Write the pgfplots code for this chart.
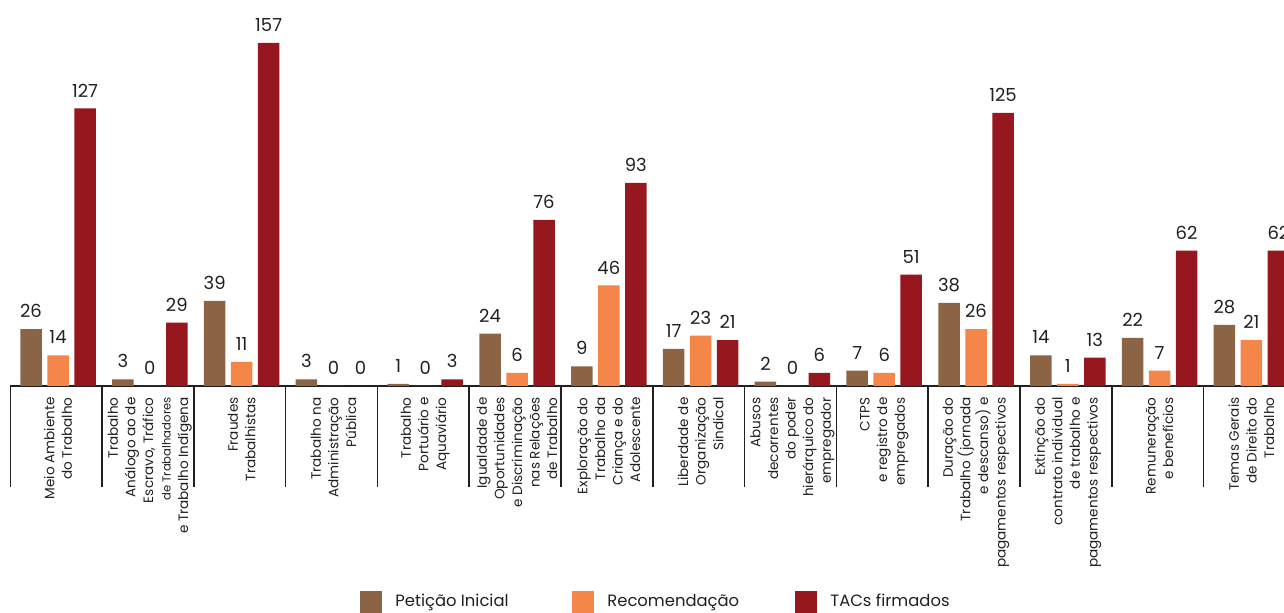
\documentclass[border=0pt]{standalone}
\usepackage{fontspec}
\setmainfont{Poppins}
\usepackage{pgfplots}
\pgfplotsset{compat=1.18}
\definecolor{peticao}{HTML}{8B6345}
\definecolor{recom}{HTML}{F5864A}
\definecolor{tac}{HTML}{96171E}
\definecolor{txt}{HTML}{231F20}

\begin{document}
\begin{tikzpicture}
\useasboundingbox (0,0) rectangle (642pt,306.5pt);
\clip (0,0) rectangle (642pt,306.5pt);
\begin{axis}[
    at={(5.15pt,113.5pt)}, anchor=south west,
    scale only axis, width=643.5pt, height=174.8pt,
    xmin=-0.52, xmax=13.5, ymin=0, ymax=160,
    axis x line*=bottom, axis y line=none,
    x axis line style={line width=0.9pt, txt},
    ybar=2.75pt, bar width=10.75pt,
    xtick={0,...,13}, major tick length=0pt,
    minor xtick={-0.52,0.48,1.48,2.48,3.48,4.48,5.48,6.48,7.48,8.48,9.48,10.48,11.48,12.48},
    minor tick length=50.5pt, tick align=outside,
    minor tick style={line width=0.8pt, txt},
    xticklabels={
        {Meio Ambiente\\do Trabalho},
        {Trabalho\\Análogo ao de\\Escravo, Tráfico\\{\fontsize{5.8}{8}\selectfont de Trabalhadores}\\e Trabalho Indígena},
        {Fraudes\\Trabalhistas},
        {Trabalho na\\Administração\\Pública},
        {Trabalho\\Portuário e\\Aquaviário},
        {Igualdade de\\Oportunidades\\e Discriminação\\nas Relações\\de Trabalho},
        {Exploração do\\Trabalho da\\Criança e do\\Adolescente},
        {Liberdade de\\Organização\\Sindical},
        {Abusos\\decorrentes\\do poder\\hierárquico do\\empregador},
        {CTPS\\e registro de\\empregados},
        {Duração do\\Trabalho (jornada\\e descanso) e\\pagamentos respectivos},
        {Extinção do\\contrato individual\\de trabalho e\\pagamentos respectivos},
        {Remuneração\\e benefícios},
        {Temas Gerais\\de Direito do\\Trabalho}},
    xticklabel style={rotate=90, anchor=east, align=right,
        font=\fontsize{6.8}{8.8}\selectfont, inner sep=0pt, inner xsep=5.5pt, text=txt},
    nodes near coords,
    every node near coord/.append style={font=\fontsize{9}{10}\selectfont,
        text=txt, inner sep=0pt, yshift=5.5pt},
    /pgf/number format/assume math mode=true,
    clip=false,
    legend columns=3,
    legend image code/.code={\fill[#1] (0pt,-5.5pt) rectangle (11pt,5.5pt);},
    legend style={draw=none, fill=none, at={(0.2717,-0.6178)}, anchor=west,
        inner sep=0pt,
        nodes={inner sep=0pt, font=\fontsize{8.2}{10}\selectfont, text=txt}},
]
\addplot[fill=peticao, draw=none] coordinates {
    (0,26) (1,3) (2,39) (3,3) (4,1) (5,24) (6,9) (7,17)
    (8,2) (9,7) (10,38) (11,14) (12,22) (13,28)};
\addlegendentry{\hspace{6.5pt}\makebox[88.5pt][l]{Petição Inicial}}
\addplot[fill=recom, draw=none] coordinates {
    (0,14) (1,0) (2,11) (3,0) (4,0) (5,6) (6,46) (7,23)
    (8,0) (9,6) (10,26) (11,1) (12,7) (13,21)};
\addlegendentry{\hspace{6.5pt}\makebox[94pt][l]{Recomendação}}
\addplot[fill=tac, draw=none] coordinates {
    (0,127) (1,29) (2,157) (3,0) (4,3) (5,76) (6,93) (7,21)
    (8,6) (9,51) (10,125) (11,13) (12,62) (13,62)};
\addlegendentry{\hspace{6.5pt}\makebox[70pt][l]{TACs firmados}}
\end{axis}
\end{tikzpicture}
\end{document}
